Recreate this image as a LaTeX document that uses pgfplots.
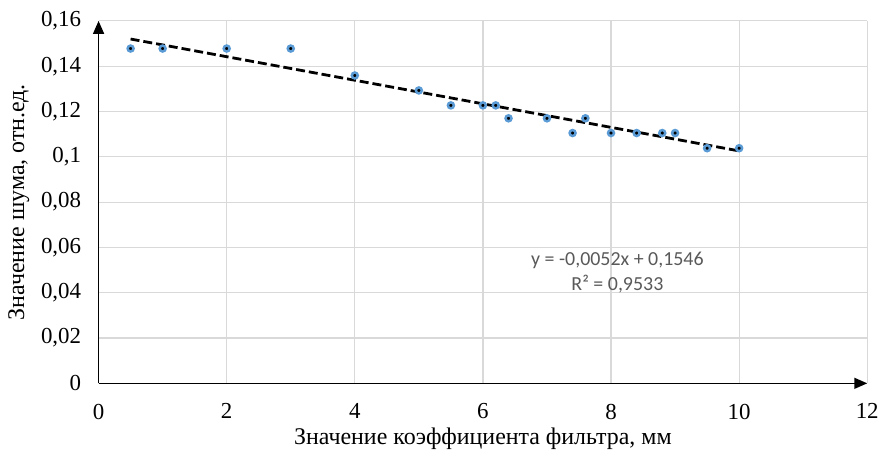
\documentclass[border=0pt]{standalone}
\usepackage{pgfplots}
\pgfplotsset{compat=1.18}
\usepackage{fontspec}
\setmainfont{Liberation Serif}
\newfontfamily\calibri{Carlito}
\usetikzlibrary{arrows.meta}
\definecolor{markblue}{RGB}{91,155,213}
\definecolor{gridgray}{RGB}{217,217,217}
\definecolor{eqgray}{RGB}{89,89,89}

\begin{document}
\begin{tikzpicture}
\begin{axis}[
    scale only axis, width=772pt, height=364pt,
    xmin=0, xmax=12, ymin=0, ymax=0.16,
    xtick={0,2,4,6,8,10,12},
    ytick={0,0.02,0.04,0.06,0.08,0.1,0.12,0.14,0.16},
    scaled ticks=false,
    axis lines=left,
    axis line style={line width=1.5pt, -{Triangle[length=13pt,width=11pt]}},
    major tick length=0pt,
    grid=major,
    major grid style={gridgray, line width=1.2pt},
    /pgf/number format/.cd, fixed, precision=2, use comma, assume math mode=true, 1000 sep={},
    /pgfplots/.cd,
    every tick label/.append style={font=\fontsize{23}{27}\selectfont},
    yticklabel style={xshift=-14pt},
    xticklabel style={yshift=-17pt},
    label style={font=\fontsize{24}{28}\selectfont},
    xlabel={Значение коэффициента фильтра, мм},
    ylabel={Значение шума, отн.ед.},
    xlabel style={yshift=-2pt},
    ylabel style={yshift=5pt},
    clip=false,
]
% trend line (Excel linear fit)
\addplot[black, line width=2.8pt, dash pattern=on 9pt off 4pt] coordinates {
    (0.5,0.1520) (10,0.1026)
};
\addplot[only marks, mark=*, mark size=3pt,
    mark options={fill=black, draw=markblue, line width=2.5pt}] coordinates {
    (0.5,0.1478) (1,0.1478) (2,0.1478) (3,0.1478) (4,0.1359)
    (5,0.1293) (5.5,0.1227) (6,0.1227) (6.2,0.1227) (6.4,0.1170)
    (7,0.1170) (7.4,0.1105) (7.6,0.1170) (8,0.1105) (8.4,0.1105)
    (8.8,0.1105) (9,0.1105) (9.5,0.1038) (10,0.1038)
};
\node[align=center, text=eqgray, font=\calibri\fontsize{20}{25}\selectfont]
    at (axis cs:8.1,0.0490) {y = -0,0052x + 0,1546\\R² = 0,9533};
\end{axis}
\path (current axis.south west) ++(-99pt,-60pt) rectangle ++(882pt,445pt);
\end{tikzpicture}
\end{document}
